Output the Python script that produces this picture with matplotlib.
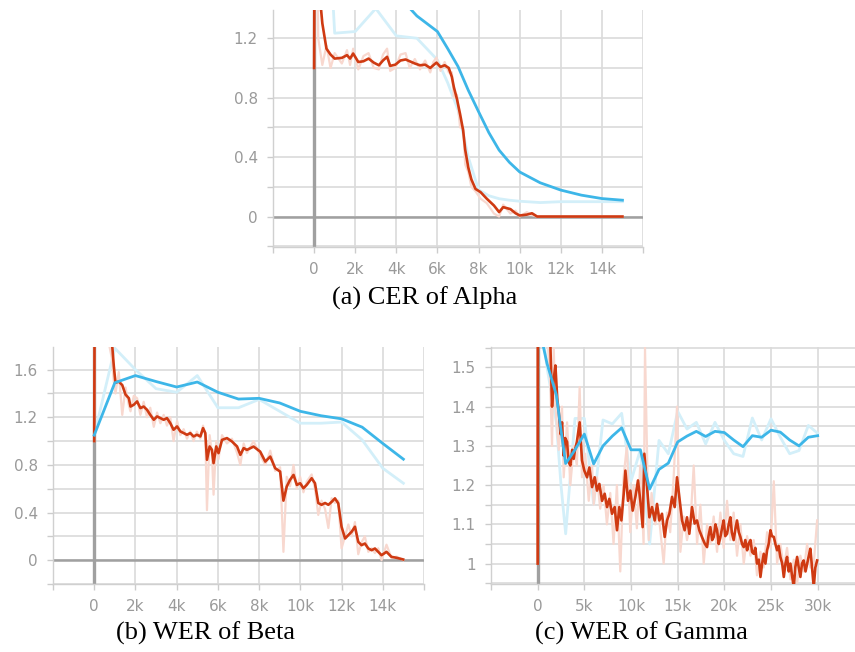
import numpy as np
import matplotlib
matplotlib.use("Agg")
import matplotlib.pyplot as plt
from matplotlib.ticker import FixedLocator, FuncFormatter

# ---- data (steps in thousands) ----
# (a) CER of Alpha
a_eval_x = [0, 1, 2, 3, 4, 5, 6, 6.5, 7, 7.5, 8, 8.5, 9, 9.5, 10, 11, 12, 13, 14, 15]
a_blue = [2.4, 2.1, 1.85, 1.65, 1.5, 1.35, 1.245, 1.13, 1.01, 0.85, 0.706, 0.565, 0.447, 0.365, 0.30,
          0.227, 0.178, 0.144, 0.121, 0.11]
a_blue_raw = [3.8, 1.234, 1.245, 1.40, 1.216, 1.2, 1.054, 0.9, 0.717, 0.4, 0.18, 0.14, 0.12, 0.11, 0.103,
              0.094, 0.10, 0.10, 0.10, 0.10]
a_red_x = [0, 0.05, 0.2, 0.4, 0.6, 0.8, 1.0, 1.35, 1.6, 1.75, 1.9, 2.15, 2.4, 2.65, 2.9, 3.15, 3.35,
           3.55, 3.7, 3.95, 4.2, 4.45, 4.65, 4.9, 5.15, 5.4, 5.65, 5.8, 5.95, 6.15, 6.35, 6.55, 6.7,
           6.8, 6.95, 7.1, 7.25, 7.35, 7.5, 7.65, 7.85, 8.1, 8.4, 8.75, 9.0, 9.2, 9.55, 9.8, 10.0,
           10.35, 10.6, 10.85, 11.5, 12.5, 13.5, 14.5, 15.0]
a_red = [1.0, 3.0, 1.6, 1.3, 1.13, 1.09, 1.063, 1.068, 1.086, 1.063, 1.097, 1.04, 1.045, 1.063, 1.036,
         1.018, 1.05, 1.075, 1.014, 1.022, 1.05, 1.057, 1.045, 1.03, 1.018, 1.022, 1.0, 1.018, 1.036,
         1.007, 1.018, 1.0, 0.94, 0.87, 0.79, 0.69, 0.58, 0.45, 0.33, 0.25, 0.186, 0.164, 0.12, 0.074,
         0.03, 0.063, 0.05, 0.022, 0.007, 0.013, 0.022, 0.0, 0.0, 0.0, 0.0, 0.0, 0.0]
a_red_raw = [1.0, 3.0, 1.2, 1.02, 1.15, 1.0, 1.1, 1.03, 1.12, 1.02, 1.13, 0.99, 1.08, 1.1, 1.0, 0.99,
             1.09, 1.13, 0.98, 1.0, 1.09, 1.1, 1.0, 1.06, 0.99, 1.05, 0.97, 1.04, 1.07, 0.98, 1.04,
             0.97, 0.97, 0.8, 0.82, 0.6, 0.6, 0.35, 0.3, 0.2, 0.17, 0.12, 0.09, 0.02, 0.0, 0.08, 0.02,
             0.04, 0.0, 0.03, 0.01, 0.0, 0.0, 0.0, 0.0, 0.0, 0.0]

# (b) WER of Beta
b_eval_x = [0, 1, 2, 3, 4, 5, 6, 7, 8, 9, 10, 11, 12, 13, 14, 15]
b_blue = [1.05, 1.49, 1.55, 1.50, 1.454, 1.496, 1.41, 1.353, 1.359, 1.32, 1.25, 1.213, 1.187, 1.117,
          0.98, 0.848]
b_blue_raw = [1.05, 1.78, 1.6, 1.44, 1.41, 1.55, 1.28, 1.28, 1.35, 1.25, 1.15, 1.15, 1.16, 1.01,
              0.772, 0.646]
b_red_x = [0, 0.05, 0.5, 0.85, 0.95, 1.03, 1.19, 1.36, 1.52, 1.68,
           1.76, 1.92, 2.08, 2.24, 2.4, 2.56, 2.72, 2.89, 3.05, 3.21,
           3.37, 3.53, 3.69, 3.85, 4.02, 4.18, 4.34, 4.5, 4.66, 4.82,
           4.98, 5.15, 5.28, 5.39, 5.47, 5.6, 5.71, 5.79, 5.92, 6.03,
           6.2, 6.44, 6.68, 6.93, 7.09, 7.25, 7.41, 7.73, 8.05, 8.3,
           8.54, 8.78, 9.02, 9.18, 9.34, 9.5, 9.67, 9.83, 9.99, 10.15,
           10.31, 10.55, 10.71, 10.87, 11.03, 11.2, 11.36, 11.52, 11.68, 11.84,
           12.0, 12.17, 12.33, 12.49, 12.65, 12.81, 12.97, 13.13, 13.3, 13.46,
           13.62, 13.78, 13.94, 14.18, 14.42, 14.67, 14.99]
b_red = [1.0, 4.0, 2.4, 1.85, 1.63, 1.49, 1.50, 1.47, 1.39, 1.36,
         1.29, 1.305, 1.333, 1.277, 1.29, 1.263, 1.22, 1.179, 1.207, 1.193,
         1.179, 1.193, 1.151, 1.095, 1.123, 1.081, 1.067, 1.053, 1.067, 1.039,
         1.053, 1.039, 1.109, 1.067, 0.843, 0.955, 0.927, 0.815, 0.955, 0.899,
         1.01, 1.025, 0.997, 0.955, 0.884, 0.941, 0.926, 0.954, 0.912, 0.828,
         0.87, 0.772, 0.744, 0.5, 0.618, 0.674, 0.716, 0.632, 0.646, 0.604,
         0.632, 0.688, 0.646, 0.48, 0.465, 0.48, 0.465, 0.49, 0.519, 0.477,
         0.281, 0.182, 0.211, 0.239, 0.281, 0.154, 0.126, 0.14, 0.098, 0.084,
         0.098, 0.07, 0.042, 0.07, 0.028, 0.02, 0.006]
b_red_raw = [1.0, 4.0, 2.0, 1.7, 1.5, 1.4, 1.58, 1.22, 1.45, 1.3,
             1.25, 1.38, 1.36, 1.22, 1.33, 1.2, 1.28, 1.12, 1.24, 1.15,
             1.22, 1.13, 1.2, 1.0, 1.17, 1.05, 1.1, 1.02, 1.08, 1.0,
             1.08, 1.02, 1.13, 1.05, 0.42, 1.05, 0.9, 0.55, 1.0, 0.85,
             1.05, 0.98, 1.02, 0.9, 0.8, 0.98, 0.9, 1.0, 0.88, 0.8,
             0.92, 0.75, 0.78, 0.07, 0.7, 0.62, 0.8, 0.6, 0.7, 0.57,
             0.66, 0.72, 0.6, 0.38, 0.5, 0.43, 0.27, 0.52, 0.48, 0.5,
             0.1, 0.2, 0.3, 0.2, 0.32, 0.05, 0.15, 0.2, 0.07, 0.1,
             0.06, 0.1, 0.0, 0.13, 0.02, 0.03, 0.0]

# (c) WER of Gamma
c_eval_x = [0, 1, 2, 2.5, 3, 4, 5, 6, 7, 8, 9, 10, 11, 12, 13, 14, 15, 16, 17, 18, 19, 20,
            21, 22, 23, 24, 25, 26, 27, 28, 29, 30]
c_blue = [1.62, 1.51, 1.43, 1.34, 1.255, 1.29, 1.33, 1.254, 1.30, 1.325, 1.346, 1.29, 1.29, 1.19,
          1.24, 1.256, 1.31, 1.325, 1.337, 1.324, 1.337, 1.334, 1.315, 1.298, 1.326, 1.322, 1.34,
          1.335, 1.315, 1.30, 1.322, 1.326]
c_blue_raw = [1.7, 1.5, 1.36, 1.2, 1.076, 1.37, 1.37, 1.15, 1.366, 1.356, 1.383, 1.21, 1.29, 1.05,
              1.314, 1.28, 1.388, 1.343, 1.36, 1.305, 1.36, 1.314, 1.28, 1.273, 1.371, 1.315, 1.369,
              1.322, 1.28, 1.288, 1.352, 1.332]
# smoothed red as (step, value) pairs
c_red_pts = [(0, 1.0), (0.05, 3.0), (1.0, 1.75), (1.36, 1.56), (1.54, 1.40), (1.72, 1.47),
             (1.9, 1.505), (2.1, 1.42), (2.26, 1.386), (2.45, 1.33), (2.61, 1.36), (2.79, 1.275),
             (2.95, 1.32), (3.15, 1.31), (3.3, 1.26), (3.5, 1.25), (3.7, 1.29), (3.86, 1.267),
             (4.0, 1.29), (4.2, 1.31), (4.5, 1.36), (4.75, 1.263), (5.0, 1.237), (5.29, 1.22),
             (5.54, 1.245), (5.83, 1.195), (6.11, 1.22), (6.36, 1.186), (6.61, 1.203), (6.9, 1.16),
             (7.18, 1.178), (7.43, 1.144), (7.68, 1.165), (7.97, 1.127), (8.25, 1.144), (8.5, 1.085),
             (8.75, 1.144), (8.97, 1.11), (9.22, 1.178), (9.4, 1.237), (9.68, 1.16), (9.93, 1.186),
             (10.18, 1.135), (10.47, 1.17), (10.75, 1.212), (11.0, 1.16), (11.25, 1.093),
             (11.43, 1.28), (11.72, 1.195), (11.97, 1.118), (12.25, 1.144), (12.54, 1.11),
             (12.79, 1.152), (13.04, 1.11), (13.32, 1.127), (13.61, 1.068), (13.86, 1.11),
             (14.11, 1.127), (14.4, 1.17), (14.68, 1.144), (14.93, 1.22), (15.18, 1.17),
             (15.47, 1.11), (15.75, 1.085), (16.0, 1.118), (16.25, 1.076), (16.54, 1.144),
             (16.82, 1.102), (17.07, 1.11), (17.32, 1.085), (17.6, 1.068), (17.9, 1.051),
             (18.15, 1.042), (18.3, 1.07), (18.5, 1.093), (18.7, 1.06), (18.86, 1.068),
             (19.05, 1.1), (19.22, 1.085), (19.4, 1.05), (19.58, 1.068), (19.75, 1.09),
             (19.93, 1.11), (20.1, 1.07), (20.29, 1.076), (20.47, 1.1), (20.65, 1.118),
             (20.8, 1.08), (21.0, 1.06), (21.2, 1.09), (21.36, 1.11), (21.55, 1.08), (21.72, 1.068),
             (21.9, 1.05), (22.08, 1.042), (22.25, 1.06), (22.44, 1.034), (22.6, 1.05), (22.8, 1.06),
             (22.97, 1.03), (23.15, 1.025), (23.32, 1.04), (23.5, 1.0), (23.7, 1.01), (23.87, 0.966),
             (24.05, 1.0), (24.22, 1.025), (24.4, 1.0), (24.58, 1.034), (24.75, 1.05), (24.94, 1.085),
             (25.1, 1.07), (25.3, 1.068), (25.47, 1.05), (25.65, 1.034), (25.82, 1.045), (26.0, 1.017),
             (26.2, 1.0), (26.37, 0.966), (26.55, 1.0), (26.72, 1.017), (26.9, 0.98), (27.08, 1.0),
             (27.25, 0.97), (27.44, 0.94), (27.6, 0.99), (27.8, 1.017), (27.97, 0.99), (28.15, 0.966),
             (28.32, 1.0), (28.5, 1.008), (28.7, 0.98), (28.87, 1.0), (29.05, 1.02), (29.22, 1.038),
             (29.4, 0.99), (29.58, 0.94), (29.75, 0.99), (29.94, 1.008)]
c_raw_x = [0, 0.05, 1.0, 1.36, 1.54, 1.72, 1.9, 2.26, 2.61, 2.79,
           3.15, 3.5, 3.86, 4.2, 4.5, 4.75, 5.1, 5.47, 5.83, 6.0,
           6.35, 6.7, 7.06, 7.42, 7.78, 8.13, 8.49, 8.85, 9.2, 9.56,
           9.92, 10.27, 10.63, 10.99, 11.35, 11.5, 11.9, 12.2, 12.6, 12.95,
           13.5, 13.85, 14.2, 14.57, 14.93, 15.29, 15.65, 16.0, 16.36, 16.72,
           17.08, 17.43, 17.79, 18.15, 18.5, 18.86, 19.22, 19.58, 19.93, 20.29,
           20.65, 21.0, 21.36, 21.72, 22.08, 22.44, 22.8, 23.15, 23.5, 23.87,
           24.22, 24.58, 24.94, 25.3, 25.65, 26.0, 26.37, 26.72, 27.08, 27.44,
           27.8, 28.15, 28.5, 28.87, 29.22, 29.58, 29.94]
c_red_raw = [1.0, 3.0, 1.6, 1.45, 1.3, 1.55, 1.4, 1.29, 1.4, 1.22,
             1.36, 1.2, 1.3, 1.25, 1.45, 1.22, 1.28, 1.16, 1.25, 1.15,
             1.22, 1.14, 1.2, 1.1, 1.18, 1.05, 1.2, 0.98, 1.22, 1.3,
             1.08, 1.2, 1.09, 1.25, 1.05, 1.55, 1.06, 1.18, 1.1, 1.13,
             1.0, 1.13, 1.08, 1.22, 1.4, 1.03, 1.12, 1.06, 1.1, 1.25,
             1.05, 1.15, 1.0, 1.1, 1.05, 1.12, 1.03, 1.13, 1.04, 1.16,
             1.06, 1.13, 1.02, 1.1, 1.0, 1.07, 1.02, 1.06, 0.97, 1.03,
             0.99, 1.08, 1.04, 1.21, 1.0, 1.05, 0.99, 1.04, 0.96, 1.01,
             0.95, 1.02, 0.98, 1.05, 0.99, 1.0, 1.11]

RED = "#cf3a12"
RED_PALE = "#f8d8cf"
BLUE = "#3db6e8"
BLUE_PALE = "#d3eff9"
GRID = "#dadada"
AXIS = "#a0a0a0"
LABEL = "#9a9a9a"

fig = plt.figure(figsize=(8.55, 6.52), dpi=100)


def kfmt(v):
    if abs(v) < 1e-9:
        return "0"
    return "%dk" % round(v)


def style(ax, xticks, xlabels_on, yticks, ylabel_vals, xlim, ylim):
    ax.set_xlim(*xlim)
    ax.set_ylim(*ylim)
    ax.xaxis.set_major_locator(FixedLocator(xticks))
    ax.yaxis.set_major_locator(FixedLocator(yticks))
    ax.xaxis.set_major_formatter(FuncFormatter(
        lambda v, p: kfmt(v) if any(abs(v - t) < 1e-6 for t in xlabels_on) else ""))
    ax.yaxis.set_major_formatter(FuncFormatter(
        lambda v, p: next((s for t, s in ylabel_vals if abs(v - t) < 1e-6), "")))
    ax.grid(True, color=GRID, lw=1.2)
    ax.set_axisbelow(True)
    for s in ["top", "right"]:
        ax.spines[s].set_visible(False)
    for s in ["left", "bottom"]:
        ax.spines[s].set_color("#d0d0d0")
        ax.spines[s].set_linewidth(1.0)
    ax.tick_params(colors="#cccccc", labelcolor=LABEL, labelsize=11, length=4, width=1, pad=7)


def draw(ax, ex, blue, blue_raw, rx, red, raw_x, red_raw):
    ax.axvline(0, color=AXIS, lw=2.4, zorder=1.5)
    ax.axhline(0, color=AXIS, lw=1.8, zorder=1.5)
    ax.plot(ex, blue_raw, color=BLUE_PALE, lw=2.0, zorder=2)
    ax.plot(raw_x, red_raw, color=RED_PALE, lw=1.6, zorder=2.1)
    ax.plot(rx, red, color=RED, lw=1.9, zorder=3)
    ax.plot(ex, blue, color=BLUE, lw=2.0, zorder=3.1)


# (a)
ax_a = fig.add_axes([273 / 855, 1 - 247 / 652, 370 / 855, 237 / 652])
draw(ax_a, a_eval_x, a_blue, a_blue_raw, a_red_x, a_red, a_red_x, a_red_raw)
style(ax_a, list(range(-2, 17, 2)), list(range(0, 15, 2)),
      np.round(np.arange(-0.2, 1.31, 0.2), 2),
      [(0, "0"), (0.4, "0.4"), (0.8, "0.8"), (1.2, "1.2")],
      (-2, 16), (-0.205, 1.39))

# (b)
ax_b = fig.add_axes([53 / 855, 1 - 584 / 652, 371 / 855, 237 / 652])
draw(ax_b, b_eval_x, b_blue, b_blue_raw, b_red_x, b_red, b_red_x, b_red_raw)
style(ax_b, list(range(-2, 17, 2)), list(range(0, 15, 2)),
      np.round(np.arange(-0.2, 1.71, 0.2), 2),
      [(0, "0"), (0.4, "0.4"), (0.8, "0.8"), (1.2, "1.2"), (1.6, "1.6")],
      (-2, 16), (-0.2, 1.79))

# (c)
c_red_x = [p[0] for p in c_red_pts]
c_red = [p[1] for p in c_red_pts]
ax_c = fig.add_axes([491 / 855, 1 - 584 / 652, 364 / 855, 237 / 652])
draw(ax_c, c_eval_x, c_blue, c_blue_raw, c_red_x, c_red, c_raw_x, c_red_raw)
style(ax_c, list(range(-5, 31, 5)), list(range(0, 31, 5)),
      np.round(np.arange(0.95, 1.551, 0.05), 2),
      [(1.0, "1"), (1.1, "1.1"), (1.2, "1.2"), (1.3, "1.3"), (1.4, "1.4"), (1.5, "1.5")],
      (-5, 34), (0.948, 1.552))

cap = dict(fontsize=19, family="Liberation Serif", ha="center", va="center", color="black")
fig.text(425 / 855, 1 - 298 / 652, "(a) CER of Alpha", **cap)
fig.text(205 / 855, 1 - 633 / 652, "(b) WER of Beta", **cap)
fig.text(641 / 855, 1 - 633 / 652, "(c) WER of Gamma", **cap)

fig.savefig("out.png", dpi=100)
